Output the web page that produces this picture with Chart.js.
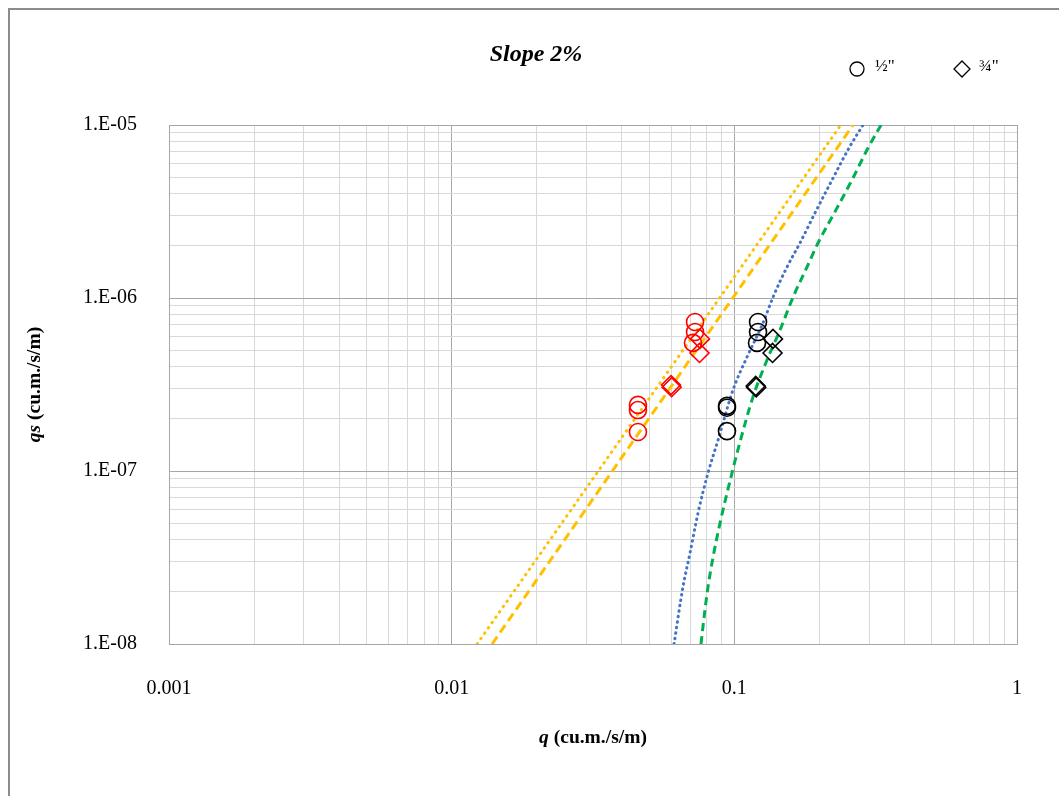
<!DOCTYPE html>
<html>
<head>
<meta charset="utf-8">
<script src="https://cdn.jsdelivr.net/npm/chart.js@4.4.1/dist/chart.umd.min.js"></script>
<style>
  html, body { margin: 0; padding: 0; background: #fff; }
  canvas { display: block; }
</style>
</head>
<body>
<canvas id="qsChart" width="1059" height="796"></canvas>
<script>
// grid / tick values
const xTickValues = [0.001, 0.002, 0.003, 0.004, 0.005, 0.006, 0.007, 0.008, 0.009,
                     0.01, 0.02, 0.03, 0.04, 0.05, 0.06, 0.07, 0.08, 0.09,
                     0.1, 0.2, 0.3, 0.4, 0.5, 0.6, 0.7, 0.8, 0.9, 1];
const yTickValues = [1e-8, 2e-8, 3e-8, 4e-8, 5e-8, 6e-8, 7e-8, 8e-8, 9e-8,
                     1e-7, 2e-7, 3e-7, 4e-7, 5e-7, 6e-7, 7e-7, 8e-7, 9e-7,
                     1e-6, 2e-6, 3e-6, 4e-6, 5e-6, 6e-6, 7e-6, 8e-6, 9e-6, 1e-5];

// measured points - 1/2" (circles)
const redCircleQ   = [0.0456, 0.0456, 0.0456, 0.0726, 0.0726, 0.0714];
const redCircleQs  = [2.41e-7, 2.25e-7, 1.68e-7, 7.27e-7, 6.36e-7, 5.5e-7];
const blackCircleQ  = [0.0942, 0.0942, 0.0942, 0.1213, 0.1213, 0.1203];
const blackCircleQs = [2.38e-7, 2.32e-7, 1.70e-7, 7.27e-7, 6.36e-7, 5.5e-7];

// measured points - 3/4" (diamonds)
const redDiamondQ   = [0.0597, 0.0600, 0.0756, 0.0753];
const redDiamondQs  = [3.14e-7, 3.05e-7, 5.8e-7, 4.81e-7];
const blackDiamondQ  = [0.1190, 0.1195, 0.1370, 0.1365];
const blackDiamondQs = [3.10e-7, 3.04e-7, 5.8e-7, 4.81e-7];

// trend lines
const yellowDotQ   = [0.0123, 0.238];
const yellowDotQs  = [1e-8, 1e-5];
const yellowDashQ  = [0.0139, 0.263];
const yellowDashQs = [1e-8, 1e-5];
const blueDotQ  = [0.0612, 0.0658, 0.0697, 0.0744, 0.0807, 0.0876, 0.0989, 0.1109, 0.1263,
                   0.1370, 0.1536, 0.1707, 0.1929, 0.2216, 0.2544, 0.2852];
const blueDotQs = [1e-8, 2.135e-8, 3.36e-8, 5.72e-8, 9.74e-8, 1.51e-7, 2.94e-7, 4.56e-7, 7.17e-7,
                   1.01e-6, 1.51e-6, 2.08e-6, 3.10e-6, 4.81e-6, 7.36e-6, 1e-5];
const greenDashQ  = [0.0762, 0.0787, 0.0807, 0.0841, 0.0890, 0.0981, 0.1047, 0.1164, 0.1305,
                     0.1451, 0.1613, 0.1807, 0.1977, 0.2289, 0.2607, 0.2971, 0.3304];
const greenDashQs = [1e-8, 1.57e-8, 2.135e-8, 3.18e-8, 5.0e-8, 9.74e-8, 1.47e-7, 2.68e-7, 4.38e-7,
                     6.53e-7, 1.01e-6, 1.51e-6, 2.08e-6, 3.23e-6, 4.81e-6, 7.36e-6, 1e-5];

const pts = (xs, ys) => xs.map((x, i) => ({ x: x, y: ys[i] }));
const isDecade = v => Math.abs(Math.log10(v) - Math.round(Math.log10(v))) < 1e-6;

function marker(label, xs, ys, color, style) {
    return {
        label: label,
        data: pts(xs, ys),
        pointStyle: style,
        pointRadius: style === 'circle' ? 8.5 : 9.5,
        pointBorderColor: color,
        pointBackgroundColor: 'rgba(0,0,0,0)',
        pointBorderWidth: 1.6,
        showLine: false
    };
}

function trend(label, xs, ys, color, dash, cap) {
    return {
        label: label,
        data: pts(xs, ys),
        showLine: true,
        borderColor: color,
        borderWidth: 3,
        borderDash: dash,
        borderCapStyle: cap,
        pointRadius: 0,
        cubicInterpolationMode: 'monotone',
        fill: false
    };
}

// titles, legend and frame
const decorations = {
    id: 'decorations',
    afterDraw(chart) {
        const c = chart.ctx;
        const area = chart.chartArea;
        c.save();

        // outer frame (left + top only visible)
        c.strokeStyle = '#8c8c8c';
        c.lineWidth = 2;
        c.beginPath();
        c.moveTo(9, 796);
        c.lineTo(9, 9);
        c.lineTo(1059, 9);
        c.stroke();

        c.fillStyle = '#000';
        c.textBaseline = 'middle';

        // title
        c.font = 'italic bold 24px "Liberation Serif"';
        c.textAlign = 'center';
        c.fillText('Slope 2%', 536, 55);

        // axis titles with italic q
        const drawTitle = (x, y, rot, a, b) => {
            c.save();
            c.translate(x, y);
            c.rotate(rot);
            c.font = 'italic bold 19.5px "Liberation Serif"';
            const wa = c.measureText(a).width;
            c.font = 'bold 19.5px "Liberation Serif"';
            const wb = c.measureText(b).width;
            let sx = -(wa + wb) / 2;
            c.textAlign = 'left';
            c.font = 'italic bold 19.5px "Liberation Serif"';
            c.fillText(a, sx, 0);
            c.font = 'bold 19.5px "Liberation Serif"';
            c.fillText(b, sx + wa, 0);
            c.restore();
        };
        drawTitle((area.left + area.right) / 2, 738, 0, 'q', ' (cu.m./s/m)');
        drawTitle(35, (area.top + area.bottom) / 2, -Math.PI / 2, 'qs', ' (cu.m./s/m)');

        // legend
        c.strokeStyle = '#000';
        c.lineWidth = 1.3;
        c.beginPath();
        c.arc(857, 69, 7, 0, Math.PI * 2);
        c.stroke();
        c.beginPath();
        c.moveTo(962, 61);
        c.lineTo(970, 69);
        c.lineTo(962, 77);
        c.lineTo(954, 69);
        c.closePath();
        c.stroke();
        c.font = '17px "Liberation Serif"';
        c.textAlign = 'left';
        c.fillText('\u00BD"', 875, 67);
        c.fillText('\u00BE"', 979, 67);

        c.restore();
    }
};

const ctx = document.getElementById('qsChart').getContext('2d');
new Chart(ctx, {
    type: 'scatter',
    data: {
        datasets: [
            marker('1/2" red', redCircleQ, redCircleQs, '#FF0000', 'circle'),
            marker('1/2" black', blackCircleQ, blackCircleQs, '#000000', 'circle'),
            marker('3/4" red', redDiamondQ, redDiamondQs, '#FF0000', 'rectRot'),
            marker('3/4" black', blackDiamondQ, blackDiamondQs, '#000000', 'rectRot'),
            trend('yellow dotted', yellowDotQ, yellowDotQs, '#FFC000', [0.5, 6], 'round'),
            trend('yellow dashed', yellowDashQ, yellowDashQs, '#FFC000', [9, 5], 'butt'),
            trend('blue dotted', blueDotQ, blueDotQs, '#4472C4', [0.5, 5], 'round'),
            trend('green dashed', greenDashQ, greenDashQs, '#00B050', [8, 5], 'butt')
        ]
    },
    options: {
        responsive: false,
        animation: false,
        layout: { padding: { top: 125, right: 42, left: 0, bottom: 0 } },
        plugins: {
            legend: { display: false },
            tooltip: { enabled: false }
        },
        scales: {
            x: {
                type: 'logarithmic',
                min: 0.001,
                max: 1,
                afterBuildTicks: s => { s.ticks = xTickValues.map(v => ({ value: v })); },
                afterFit: s => { s.height = 152; },
                ticks: {
                    autoSkip: false,
                    maxRotation: 0,
                    padding: 33,
                    color: '#000',
                    font: { family: '"Liberation Serif"', size: 20 },
                    callback: v => isDecade(v) ? String(Number(v.toPrecision(1))) : ''
                },
                grid: {
                    drawTicks: false,
                    color: c => (c.tick && isDecade(c.tick.value)) ? '#A6A6A6' : '#D9D9D9'
                },
                border: { color: '#A6A6A6' }
            },
            y: {
                type: 'logarithmic',
                min: 1e-8,
                max: 1e-5,
                afterBuildTicks: s => { s.ticks = yTickValues.map(v => ({ value: v })); },
                afterFit: s => { s.width = 169; },
                ticks: {
                    autoSkip: false,
                    padding: 32,
                    color: '#000',
                    font: { family: '"Liberation Serif"', size: 20 },
                    callback: v => isDecade(v)
                        ? '1.E-' + String(-Math.round(Math.log10(v))).padStart(2, '0')
                        : ''
                },
                grid: {
                    drawTicks: false,
                    color: c => (c.tick && isDecade(c.tick.value)) ? '#A6A6A6' : '#D9D9D9'
                },
                border: { color: '#A6A6A6' }
            }
        }
    },
    plugins: [decorations]
});
</script>
</body>
</html>
